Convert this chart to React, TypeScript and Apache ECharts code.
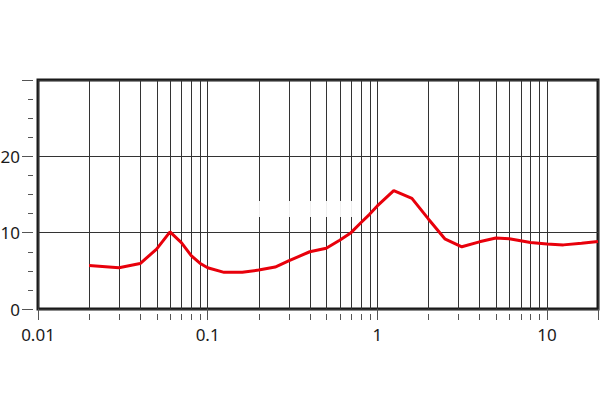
import React, { useEffect, useRef } from "react";
import * as echarts from "echarts";

const freqs = [0.02, 0.03, 0.04, 0.05, 0.06, 0.07, 0.08, 0.09, 0.1, 0.125, 0.16, 0.2, 0.25, 0.3, 0.4, 0.5, 0.6, 0.7, 0.8, 0.9, 1, 1.25, 1.6, 2, 2.5, 3.15, 4, 5, 6, 8, 10, 12.5, 16, 20];
const values = [5.7, 5.4, 5.95, 7.85, 10.1, 8.7, 7.0, 6.0, 5.4, 4.8, 4.8, 5.1, 5.5, 6.3, 7.5, 7.95, 9.0, 10.0, 11.3, 12.4, 13.5, 15.5, 14.5, 11.8, 9.2, 8.15, 8.8, 9.3, 9.2, 8.7, 8.5, 8.4, 8.6, 8.85];
const minorGridX = [0.02, 0.03, 0.04, 0.05, 0.06, 0.07, 0.08, 0.09, 0.2, 0.3, 0.4, 0.5, 0.6, 0.7, 0.8, 0.9, 2, 3, 4, 5, 6, 7, 8, 9];
const xMin = 0.01;
const xMax = 20;
const yMin = 0;
const yMax = 30;
const yInterval = 10;

export default function App() {
  const ref = useRef<HTMLDivElement>(null);
  useEffect(() => {
    if (!ref.current) return;
    const chart = echarts.init(ref.current, null, { renderer: "svg" });
    const font = "'Noto Sans', sans-serif";
    chart.setOption({
      animation: false,
      backgroundColor: "#ffffff",
      grid: {
        left: 38,
        right: 2,
        top: 80,
        bottom: 111,
        show: true,
        borderWidth: 3,
        borderColor: "#1a1a1a",
        backgroundColor: "transparent",
        containLabel: false,
        outerBoundsMode: "none",
      },
      xAxis: {
        type: "log",
        logBase: 10,
        min: xMin,
        max: xMax,
        offset: 5,
        axisLine: { show: false },
        axisTick: { show: true, length: 11, lineStyle: { color: "#555", width: 1 } },
        axisLabel: {
          margin: 12,
          fontSize: 17,
          fontFamily: font,
          color: "#1a1a1a",
          formatter: (v: number) => {
            const l = Math.log10(v);
            const r = Math.round(l);
            if (Math.abs(l - r) > 1e-6) return "";
            return r >= 0 ? String(Math.round(Math.pow(10, r))) : Math.pow(10, r).toFixed(-r);
          },
        },
        splitLine: { show: true, lineStyle: { color: "#333", width: 1 } },
      },
      yAxis: {
        type: "value",
        min: yMin,
        max: yMax,
        interval: yInterval,
        offset: 5,
        axisLine: { show: false },
        axisTick: { show: true, length: 11, lineStyle: { color: "#555", width: 1 } },
        minorTick: { show: true, splitNumber: 4, length: 5, lineStyle: { color: "#555", width: 1 } },
        axisLabel: {
          margin: 13,
          fontSize: 17,
          fontFamily: font,
          color: "#1a1a1a",
          formatter: (v: number) => (v >= yMax ? "" : String(v)),
        },
        splitLine: { show: true, lineStyle: { color: "#333", width: 1 } },
      },
      graphic: [
        {
          type: "rect",
          z: 3,
          silent: true,
          shape: { x: 257, y: 201, width: 103, height: 16 },
          style: { fill: "#ffffff", opacity: 0.92 },
        },
      ],
      series: [
        {
          type: "custom",
          z: 1,
          silent: true,
          clip: false,
          data: minorGridX.map((v) => [v, 0]),
          encode: { x: 0, y: 1 },
          renderItem: (params: any, api: any) => {
            const cs = params.coordSys;
            const px = Math.round(api.coord([api.value(0), 0])[0]) + 0.5;
            const bottom = cs.y + cs.height;
            return {
              type: "group",
              children: [
                {
                  type: "line",
                  shape: { x1: px, y1: cs.y, x2: px, y2: bottom },
                  style: { stroke: "#333", lineWidth: 1 },
                },
                {
                  type: "line",
                  shape: { x1: px, y1: bottom + 5, x2: px, y2: bottom + 11 },
                  style: { stroke: "#555", lineWidth: 1 },
                },
              ],
            };
          },
        },
        {
          type: "line",
          z: 5,
          data: freqs.map((f, i) => [f, values[i]]),
          showSymbol: false,
          symbol: "none",
          lineStyle: { color: "#e8000b", width: 3 },
        },
      ],
    });
    return () => chart.dispose();
  }, []);
  return <div ref={ref} style={{ position: "fixed", left: 0, top: 0, width: 600, height: 420 }} />;
}
